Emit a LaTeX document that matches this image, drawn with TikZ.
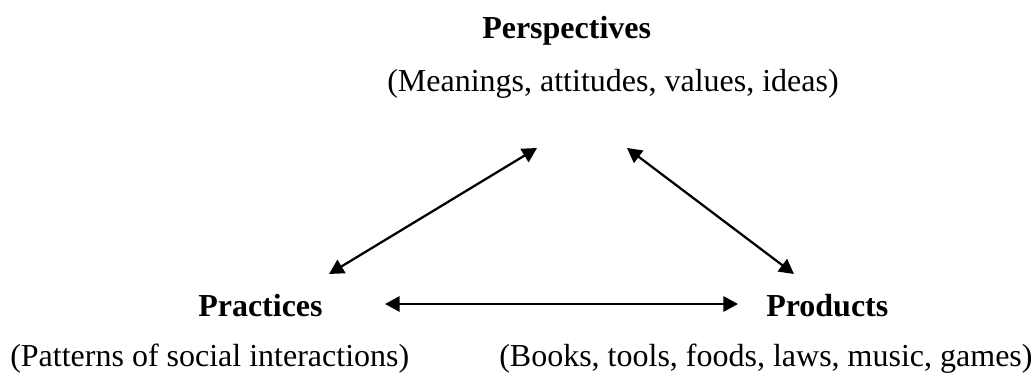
\documentclass[tikz,border=0pt]{standalone}
\usepackage{fontspec}
\setmainfont{Liberation Serif}
\usepackage{tikz}
\usetikzlibrary{arrows.meta, positioning}
\tikzstyle{heading} = [
    inner sep=0pt, anchor=base west, font=\fontsize{24}{28}\selectfont\bfseries
]
\tikzstyle{detail} = [
    inner sep=0pt, anchor=base west, font=\fontsize{24}{28}\selectfont
]
\tikzstyle{arrow} = [{Triangle[length=11pt,width=11.5pt]}-{Triangle[length=11pt,width=11.5pt]}, line width=1.7pt, color=black]

\begin{document}
\begin{tikzpicture}[x=0.75pt, y=-0.75pt]
    \useasboundingbox (0,0) rectangle (1033,372);

    % Headings
    \node[heading] (persp) at (482,38) {Perspectives};
    \node[heading] (prac) at (198,316) {Practices};
    \node[heading] (prod) at (766,316) {Products};

    % Details
    \node[detail] (perspdet) at (387,91) {(Meanings, attitudes, values, ideas)};
    \node[detail] (pracdet) at (10,366) {(Patterns of social interactions)};
    \node[detail] (proddet) at (499,366) {(Books, tools, foods, laws, music, games)};

    % Arrow ends
    \coordinate (pracup) at (329,274);
    \coordinate (persl) at (537,148);
    \coordinate (persr) at (627,148);
    \coordinate (produp) at (794,274);
    \coordinate (pracrt) at (385,304);
    \coordinate (prodlt) at (738,304);

    % Arrows
    \draw[arrow] (pracup) -- (persl);
    \draw[arrow] (persr) -- (produp);
    \draw[arrow] (pracrt) -- (prodlt);

\end{tikzpicture}
\end{document}
